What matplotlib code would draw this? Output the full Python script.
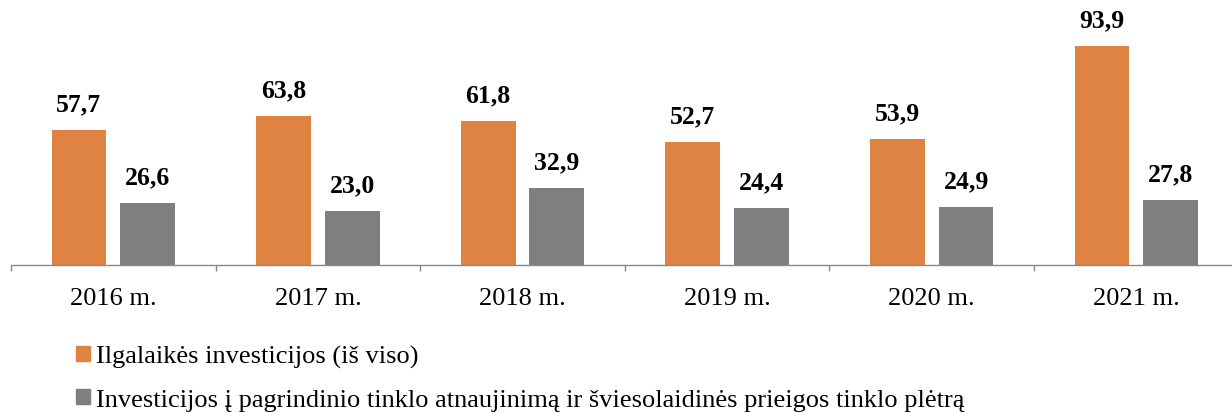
import numpy as np
import matplotlib
matplotlib.use("Agg")
import matplotlib.pyplot as plt
from matplotlib.patches import Patch

years = ['2016 m.', '2017 m.', '2018 m.', '2019 m.', '2020 m.', '2021 m.']
total = [57.7, 63.8, 61.8, 52.7, 53.9, 93.9]
network = [26.6, 23.0, 32.9, 24.4, 24.9, 27.8]
series_names = ['Ilgalaikės investicijos (iš viso)',
                'Investicijos į pagrindinio tinklo atnaujinimą ir šviesolaidinės prieigos tinklo plėtrą']

orange = '#DE8342'
gray = '#7F7F7F'

plt.rcParams['font.family'] = ['Liberation Serif', 'DejaVu Serif']

W, H = 1232, 414
fig = plt.figure(figsize=(W / 100, H / 100), dpi=100)
# axis line sits at y=266 px; plot spans from x=11 px, one category = 204.6 px
ax = fig.add_axes([11 / W, (H - 266) / H, 6 * 204.6 / W, 266 / H])

x = np.arange(len(years))
w = 0.268
off = 0.168
b1 = ax.bar(x - off, total, w, color=orange)
b2 = ax.bar(x + off, network, w, color=gray)

def fmt(v):
    return f'{v:.1f}'.replace('.', ',')

for bars, vals in ((b1, total), (b2, network)):
    for r, v in zip(bars, vals):
        ax.annotate(fmt(v), (r.get_x() + r.get_width() / 2, v),
                    xytext=(0, 10.5), textcoords='offset points',
                    ha='center', va='bottom', fontsize=18.5, fontweight='bold')

ax.set_xlim(-0.5, len(years) - 0.5)
ax.set_ylim(0, 114)
ax.set_xticks(x)
ax.set_xticklabels(years, fontsize=19)
ax.tick_params(axis='x', which='major', length=0, pad=16)
ax.set_xticks(np.arange(len(years) + 1) - 0.5, minor=True)
ax.tick_params(axis='x', which='minor', length=4, width=1, color='#888888')
ax.set_yticks([])
for s in ('top', 'right', 'left'):
    ax.spines[s].set_visible(False)
ax.spines['bottom'].set_color('#888888')
ax.spines['bottom'].set_linewidth(1)

handles = [Patch(color=orange), Patch(color=gray)]
fig.legend(handles, series_names, loc='upper left', bbox_to_anchor=(76 / W, 1 - 346 / H),
           frameon=False, fontsize=19, handlelength=0.53, handleheight=0.53,
           handletextpad=0.22, labelspacing=0.78, borderaxespad=0, borderpad=0)

fig.savefig('out.png', dpi=100)
